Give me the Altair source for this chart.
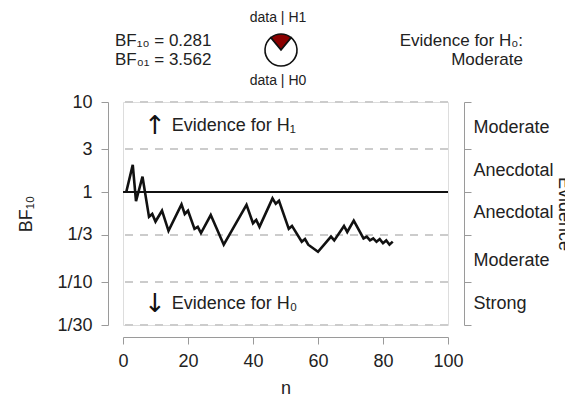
import math
import altair as alt
import pandas as pd

# ---- data ----
n_vals = [1, 3, 4, 6, 8, 9, 10, 12, 14, 18, 19, 20, 22, 23, 24, 27, 31, 38, 40, 41,
          42, 46, 47, 48, 51, 52, 55, 56, 57, 60, 64, 65, 68, 69, 71, 74, 75, 76, 77, 78,
          79, 80, 81, 82, 83]
bf_vals = [1.0, 2.0, 0.79, 1.48, 0.53, 0.57, 0.47, 0.62, 0.37, 0.73, 0.57, 0.62, 0.39, 0.41,
           0.35, 0.555, 0.26, 0.72, 0.45, 0.49, 0.41, 0.85, 0.74, 0.80, 0.39, 0.42, 0.28, 0.30,
           0.26, 0.217, 0.32, 0.29, 0.42, 0.36, 0.48, 0.305, 0.32, 0.29, 0.305, 0.28, 0.30,
           0.27, 0.29, 0.26, 0.281]

y_ticks = [10, 3, 1, 1 / 3, 1 / 10, 1 / 30]
y_tick_labels = ["10", "3", "1", "1/3", "1/10", "1/30"]
evidence_labels = ["", "Moderate", "Anecdotal", "Anecdotal", "Moderate", "Strong"]
dashed_levels = [10, 3, 1 / 3, 1 / 10, 1 / 30]
x_ticks = [0, 20, 40, 60, 80, 100]

pie_labels = ["data | H1", "data | H0"]
pie_values = [0.281, 1.0]
pie_colors = ["#8b0000", "#ffffff"]

header_left = ["BF\u2081\u2080 = 0.281", "BF\u2080\u2081 = 3.562"]
header_right = ["Evidence for H\u2080:", "Moderate"]
arrow_glyphs = ["\u2191", "\u2193"]
arrow_texts = ["Evidence for H\u2081", "Evidence for H\u2080"]
arrow_y = [math.sqrt(10 * 3), math.sqrt((1 / 10) * (1 / 30))]
arrow_glyph_x = [9.8, 9.8]
arrow_text_x = [15.0, 15.0]

FONT = "Liberation Sans"
TXT = "#222222"
AX = "#9a9a9a"
FS = 18


def label_expr(vals, labs):
    parts = []
    for v, l in zip(vals, labs):
        parts.append(f"abs(datum.value - {v}) < 1e-6 ? '{l}' : ")
    return "".join(parts) + "''"


yscale = alt.Scale(type="log", domain=[1 / 30, 10], nice=False)
xscale = alt.Scale(domain=[0, 100], nice=False)

x_axis = alt.Axis(values=x_ticks, offset=12, tickSize=7, labelPadding=8, grid=False,
                  domainColor=AX, tickColor=AX, labelFontSize=FS, labelColor=TXT,
                  titleFontSize=FS, titleFontWeight="normal", titleColor=TXT,
                  titlePadding=9, labelFlush=False, title="n")

left_axis = alt.Axis(values=y_ticks, labelExpr=label_expr(y_ticks, y_tick_labels),
                     offset=15, tickSize=7, labelPadding=9, grid=False,
                     domainColor=AX, tickColor=AX, labelFontSize=FS, labelColor=TXT,
                     labelFlush=False, labelOverlap=False,
                     title="BF\u2081\u2080", titleFontSize=FS, titleFontWeight="normal",
                     titleColor=TXT, titlePadding=21)

right_axis = alt.Axis(orient="right", values=y_ticks,
                      labelExpr=label_expr(y_ticks, evidence_labels),
                      labelOffset=-22, offset=16, tickSize=7, labelPadding=2, grid=False,
                      domainColor=AX, tickColor=AX, labelFontSize=FS, labelColor=TXT,
                      labelFlush=False, labelOverlap=False,
                      title="Evidence", titleAngle=90, titleFontSize=FS,
                      titleFontWeight="normal", titleColor=TXT, titlePadding=1)

line_df = pd.DataFrame({"n": n_vals, "bf": bf_vals})
grid_df = pd.DataFrame({"bf": dashed_levels})
one_df = pd.DataFrame({"bf": [1.0]})
arrow_df = pd.DataFrame({"ng": arrow_glyph_x, "nt": arrow_text_x, "bf": arrow_y,
                         "g": arrow_glyphs, "t": arrow_texts})

grid = alt.Chart(grid_df).mark_rule(color="#cccccc", strokeWidth=2, strokeDash=[8, 7]).encode(
    y=alt.Y("bf:Q", scale=yscale, axis=right_axis)
)
one = alt.Chart(one_df).mark_rule(color="#111111", strokeWidth=2).encode(
    y=alt.Y("bf:Q", scale=yscale, axis=None)
)
line = alt.Chart(line_df).mark_line(color="#111111", strokeWidth=2.6, strokeJoin="miter").encode(
    x=alt.X("n:Q", scale=xscale, axis=x_axis),
    y=alt.Y("bf:Q", scale=yscale, axis=left_axis),
)
arrow_glyph = alt.Chart(arrow_df).mark_text(align="center", baseline="middle", fontSize=26,
                                            color="#111111", font="DejaVu Sans").encode(
    x=alt.X("ng:Q", scale=xscale, axis=x_axis),
    y=alt.Y("bf:Q", scale=yscale, axis=None),
    text="g:N",
)
arrow_text = alt.Chart(arrow_df).mark_text(align="left", baseline="middle", fontSize=FS,
                                           color=TXT, font=FONT).encode(
    x=alt.X("nt:Q", scale=xscale, axis=x_axis),
    y=alt.Y("bf:Q", scale=yscale, axis=None),
    text="t:N",
)


# header annotations (pixel positions relative to plot origin)
def htext(t, x, y, align, size=FS - 1):
    return alt.Chart(pd.DataFrame({"t": [t]})).mark_text(
        align=align, baseline="alphabetic", fontSize=size, color=TXT, font=FONT
    ).encode(x=alt.value(x), y=alt.value(y), text="t:N")


PCX = 158
headers = [
    htext(header_left[0], -8, -56, "left"),
    htext(header_left[1], -8, -37, "left"),
    htext(header_right[0], 400, -56, "right"),
    htext(header_right[1], 400, -37, "right"),
    htext(pie_labels[0], PCX - 3, -80, "center", 14),
    htext(pie_labels[1], PCX - 3, -17, "center", 14),
]

tot = sum(pie_values)
f1 = pie_values[0] / tot
pie_df = pd.DataFrame({
    "k": pie_labels,
    "a0": [-math.pi * f1, math.pi * f1],
    "a1": [math.pi * f1, 2 * math.pi - math.pi * f1],
    "c": pie_colors,
})
pie = alt.Chart(pie_df).mark_arc(outerRadius=16, stroke="#111111", strokeWidth=1.6).encode(
    theta=alt.Theta("a0:Q", scale=None),
    theta2="a1:Q",
    fill=alt.Color("c:N", scale=None),
    x=alt.value(PCX),
    y=alt.value(-52),
)

chart = alt.layer(grid, one, line, arrow_glyph, arrow_text, pie, *headers).resolve_axis(
    y="independent"
).properties(
    width=325, height=223,
    padding={"left": 115, "top": 94, "right": 117, "bottom": 76},
    autosize=alt.AutoSizeParams(type="none"),
).configure_view(stroke=None).configure(font=FONT)

chart.save("out.html", embed_options={"renderer": "svg", "actions": False})
